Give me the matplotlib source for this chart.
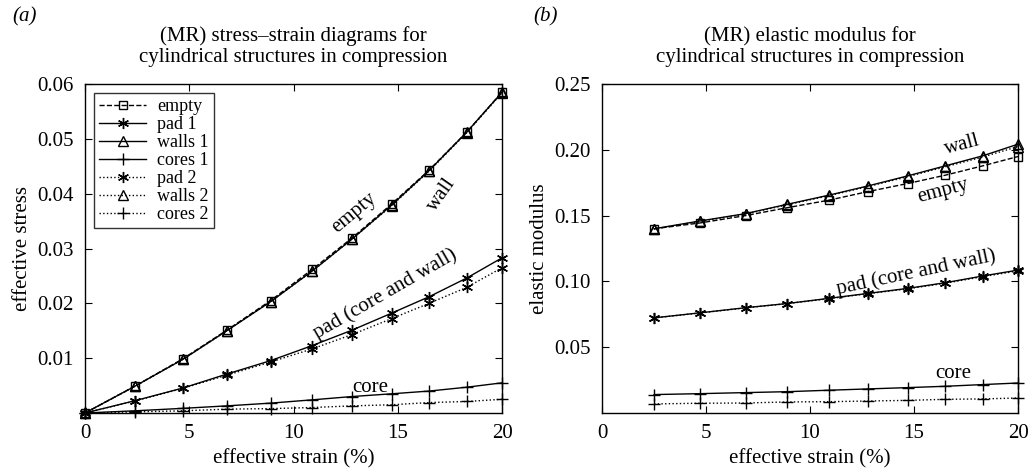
import numpy as np
import matplotlib.pyplot as plt

plt.rcParams['font.family'] = ['Liberation Serif', 'DejaVu Serif']
plt.rcParams['mathtext.fontset'] = 'stix'

# strain values (%)
strain_a = [0.0, 2.4, 4.7, 6.8, 8.9, 10.9, 12.8, 14.7, 16.5, 18.3, 20.0]
strain_b = [2.5, 4.7, 6.9, 8.9, 10.9, 12.8, 14.7, 16.5, 18.3, 20.0]

# (a) effective stress
empty_a = [0.0, 0.0049, 0.0099, 0.0151, 0.0205, 0.0262, 0.0319, 0.0381, 0.0443, 0.0512, 0.0585]
pad1_a = [0.0, 0.00225, 0.00456, 0.0071, 0.00955, 0.0123, 0.0151, 0.0182, 0.0212, 0.0246, 0.0283]
walls1_a = [0.0, 0.0049, 0.0098, 0.0150, 0.0203, 0.0259, 0.0317, 0.0379, 0.0442, 0.0512, 0.0585]
cores1_a = [0.0, 0.0004, 0.00085, 0.0013, 0.0018, 0.0024, 0.0030, 0.0035, 0.0040, 0.0047, 0.0055]
pad2_a = [0.0, 0.0022, 0.0045, 0.0069, 0.0093, 0.0117, 0.0143, 0.0172, 0.0200, 0.0229, 0.0265]
walls2_a = [0.0, 0.0049, 0.0098, 0.0150, 0.0203, 0.0259, 0.0317, 0.0378, 0.0441, 0.0511, 0.0584]
cores2_a = [0.0, 0.0002, 0.0004, 0.0007, 0.0008, 0.0010, 0.0013, 0.0015, 0.0019, 0.0021, 0.0025]

# (b) elastic modulus
empty_b = [0.140, 0.1444, 0.150, 0.156, 0.1617, 0.1683, 0.1744, 0.1807, 0.1878, 0.1949]
pad1_b = [0.0723, 0.0761, 0.0800, 0.0832, 0.0871, 0.0909, 0.0947, 0.0990, 0.1041, 0.1086]
walls1_b = [0.140, 0.1459, 0.1515, 0.1586, 0.1655, 0.1726, 0.1802, 0.1878, 0.1954, 0.2043]
cores1_b = [0.0140, 0.0147, 0.0155, 0.0162, 0.0173, 0.0183, 0.0193, 0.0203, 0.0216, 0.0228]
pad2_b = [0.0722, 0.0760, 0.0799, 0.0831, 0.0869, 0.0907, 0.0944, 0.0986, 0.1036, 0.1080]
walls2_b = [0.1398, 0.1456, 0.1512, 0.1582, 0.1651, 0.1721, 0.1796, 0.1871, 0.1945, 0.2025]
cores2_b = [0.0069, 0.0074, 0.0076, 0.0084, 0.0086, 0.0091, 0.0096, 0.0104, 0.0107, 0.0114]

labels = ['empty', 'pad 1', 'walls 1', 'cores 1', 'pad 2', 'walls 2', 'cores 2']
ast = (6, 2, 0)  # asterisk like matlab '*'
styles = [('--', 's'), ('-', ast), ('-', '^'), ('-', '+'), (':', ast), (':', '^'), (':', '+')]

fig = plt.figure(figsize=(10.33, 4.72), dpi=100)
axa = fig.add_axes([0.0823, 0.125, 0.4037, 0.697])
axb = fig.add_axes([0.5828, 0.125, 0.4027, 0.697])


def draw(ax, x, series):
    for y, (ls, mk), lab in zip(series, styles, labels):
        if mk == 's':
            ms = 6
        elif mk == '^':
            ms = 7
        else:
            ms = 8
        ax.plot(x, y, color='k', ls=ls, lw=1.0, marker=mk, ms=ms,
                mfc='none', mec='k', mew=1.0,
                label=lab, clip_on=False)
    ax.set_xlim(0, 20)
    ax.set_xticks([0, 5, 10, 15, 20])
    ax.tick_params(direction='in', top=True, right=True, labelsize=15, length=5, width=0.8, pad=8)
    ax.set_xlabel('effective strain (%)', fontsize=15)
    for s in ax.spines.values():
        s.set_linewidth(1.0)


draw(axa, strain_a, [empty_a, pad1_a, walls1_a, cores1_a, pad2_a, walls2_a, cores2_a])
axa.set_ylim(0, 0.06)
axa.set_yticks([0.01, 0.02, 0.03, 0.04, 0.05, 0.06])
axa.set_yticklabels(['0.01', '0.02', '0.03', '0.04', '0.05', '0.06'])
axa.set_ylabel('effective stress', fontsize=15)
axa.set_title('(MR) stress–strain diagrams for\ncylindrical structures in compression',
              fontsize=15, linespacing=1.1, pad=16)
leg = axa.legend(loc='upper left', fontsize=13, frameon=True, fancybox=False,
                 edgecolor='k', handlelength=2.6, labelspacing=0.05, borderpad=0.3,
                 handletextpad=0.6, borderaxespad=0.5)
leg.get_frame().set_linewidth(1.0)
axa.text(12.9, 0.0365, 'empty', fontsize=15, rotation=40, ha='center', va='center')
axa.text(17.1, 0.0398, 'wall', fontsize=15, rotation=55, ha='center', va='center')
axa.text(14.4, 0.0218, 'pad (core and wall)', fontsize=15, rotation=30, ha='center', va='center')
axa.text(13.7, 0.0046, 'core', fontsize=15, ha='center', va='center')

draw(axb, strain_b, [empty_b, pad1_b, walls1_b, cores1_b, pad2_b, walls2_b, cores2_b])
axb.set_ylim(0, 0.25)
axb.set_yticks([0.05, 0.10, 0.15, 0.20, 0.25])
axb.set_yticklabels(['0.05', '0.10', '0.15', '0.20', '0.25'])
axb.set_ylabel('elastic modulus', fontsize=15)
axb.set_title('(MR) elastic modulus for\ncylindrical structures in compression',
              fontsize=15, linespacing=1.1, pad=16)
axb.text(17.3, 0.2035, 'wall', fontsize=15, rotation=15, ha='center', va='center')
axb.text(16.4, 0.169, 'empty', fontsize=15, rotation=15, ha='center', va='center')
axb.text(15.1, 0.1065, 'pad (core and wall)', fontsize=15, rotation=12, ha='center', va='center')
axb.text(16.9, 0.030, 'core', fontsize=15, ha='center', va='center')

fig.text(0.012, 0.965, '(a)', fontsize=15, style='italic', va='center')
fig.text(0.516, 0.965, '(b)', fontsize=15, style='italic', va='center')

fig.savefig('out.png', dpi=100)
